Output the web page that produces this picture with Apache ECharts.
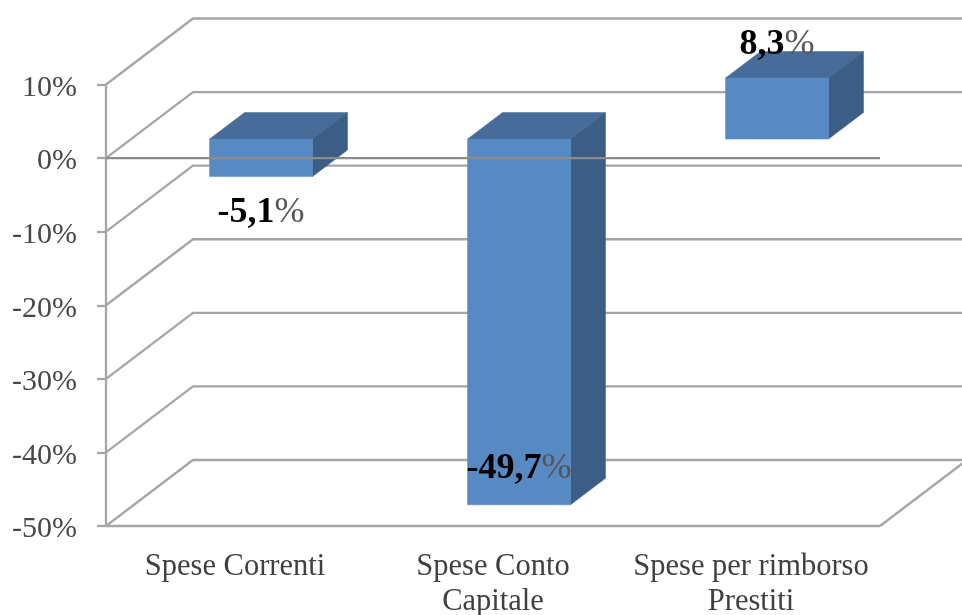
<!DOCTYPE html>
<html>
<head>
<meta charset="utf-8">
<style>html,body{margin:0;padding:0;background:#fff}#c{width:962px;height:615px}</style>
<script src="https://cdn.jsdelivr.net/npm/echarts@6/dist/echarts.min.js"></script>
</head>
<body>
<div id="c"></div>
<script>
const categories = ['Spese Correnti', 'Spese Conto\nCapitale', 'Spese per rimborso\nPrestiti'];
const values = [-5.1, -49.7, 8.3];
const valueLabels = ['-5,1', '-49,7', '8,3'];
const yTicks = [10, 0, -10, -20, -30, -40, -50];
const frontLines = [0, -50];

const labelShift = [36, -36, -33];
const WALL_DX = 87, WALL_DY = -66;
const BAR_DX = 26, BAR_DY = -19, DEPTH_DX = 35, DEPTH_DY = -26.5, BAR_W = 103;
const GRID_COLOR = '#A6A6A6';
const FONT = '"Liberation Serif", serif';

const chart = echarts.init(document.getElementById('c'), null, {renderer: 'canvas'});

function wallItem(params, api) {
  const cs = params.coordSys;
  const y = api.coord([0, api.value(1)])[1];
  const l = cs.x, r = cs.x + cs.width;
  const pts = [[l, y], [l + WALL_DX, y + WALL_DY], [r + WALL_DX, y + WALL_DY]];
  if (api.value(1) === -50) pts.push([r, y]);
  return {type: 'polyline', shape: {points: pts}, style: {stroke: GRID_COLOR, lineWidth: 2.3, fill: null}, silent: true};
}

function barItem(params, api) {
  const i = api.value(0), v = api.value(1);
  const p0 = api.coord([i, 0]), p1 = api.coord([i, v]);
  const xL = p0[0] + BAR_DX - BAR_W / 2, xR = xL + BAR_W;
  const y0 = p0[1] + BAR_DY, y1 = p1[1] + BAR_DY;
  const yT = Math.min(y0, y1), yB = Math.max(y0, y1);
  const poly = (points, fill) => ({type: 'polygon', shape: {points}, style: {fill, stroke: fill, lineWidth: 0.5}});
  return {
    type: 'group',
    children: [
      poly([[xL, yT], [xL + DEPTH_DX, yT + DEPTH_DY], [xR + DEPTH_DX, yT + DEPTH_DY], [xR, yT]], '#476C99'),
      poly([[xR, yT], [xR + DEPTH_DX, yT + DEPTH_DY], [xR + DEPTH_DX, yB + DEPTH_DY], [xR, yB]], '#3C5E86'),
      poly([[xL, yT], [xR, yT], [xR, yB], [xL, yB]], '#5789C2')
    ]
  };
}

function frontItem(params, api) {
  const cs = params.coordSys;
  const y = api.coord([0, api.value(1)])[1];
  return {type: 'line', shape: {x1: cs.x, y1: y, x2: cs.x + cs.width, y2: y},
    style: {stroke: api.value(1) === 0 ? '#8C8C8C' : GRID_COLOR, lineWidth: 2.3}, silent: true};
}

function labelItem(params, api) {
  const i = api.value(0), v = api.value(1);
  const p0 = api.coord([i, 0]), p1 = api.coord([i, v]);
  const endY = p1[1] + BAR_DY;
  return {
    type: 'text',
    style: {
      x: p0[0] + BAR_DX, y: endY + labelShift[i],
      text: '{b|' + valueLabels[i] + '}{p|%}',
      align: 'center', verticalAlign: 'middle',
      rich: {
        b: {fontFamily: FONT, fontSize: 36, fontWeight: 'bold', fill: '#000', color: '#000'},
        p: {fontFamily: FONT, fontSize: 36, fontWeight: 'normal', fill: '#555', color: '#555'}
      }
    }
  };
}

chart.setOption({
  animation: false,
  backgroundColor: '#fff',
  grid: {left: 106, right: 82, top: 84.5, bottom: 89, containLabel: false, outerBoundsMode: 'none'},
  xAxis: {
    type: 'category', data: categories, position: 'bottom',
    axisLine: {show: false, onZero: false}, axisTick: {show: false}, splitLine: {show: false},
    axisLabel: {margin: 23, interval: 0, fontFamily: FONT, fontSize: 30.5, lineHeight: 35, color: '#404040'}
  },
  yAxis: {
    type: 'value', min: -50, max: 10, interval: 10, position: 'left',
    axisLine: {show: true, lineStyle: {color: GRID_COLOR, width: 2.3}},
    axisTick: {show: true, length: 9, lineStyle: {color: GRID_COLOR, width: 2.3}},
    splitLine: {show: false},
    axisLabel: {
      margin: 29, formatter: v => '{t|' + v + '%}',
      rich: {t: {padding: [7, 0, 0, 0], fontFamily: FONT, fontSize: 30, color: '#484848'}}
    }
  },
  series: [
    {type: 'custom', z: 1, silent: true, renderItem: wallItem, data: yTicks.map(v => [0, v])},
    {type: 'custom', z: 2, silent: true, renderItem: barItem, data: values.map((v, i) => [i, v])},
    {type: 'custom', z: 3, silent: true, renderItem: frontItem, data: frontLines.map(v => [0, v])},
    {type: 'custom', z: 4, silent: true, renderItem: labelItem, data: values.map((v, i) => [i, v])}
  ]
});
</script>
</body>
</html>
